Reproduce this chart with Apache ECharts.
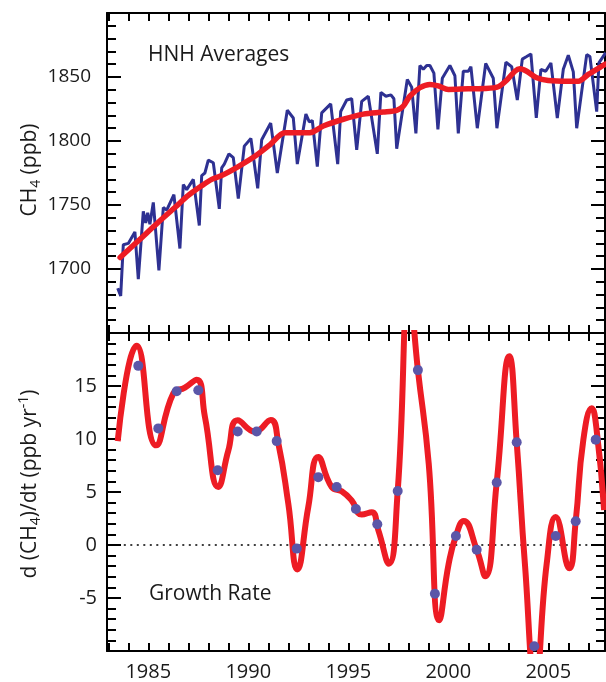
<!DOCTYPE html>
<html><head><meta charset="utf-8">
<script src="https://cdn.jsdelivr.net/npm/echarts@6/dist/echarts.min.js"></script>
<style>html,body{margin:0;padding:0;background:#fff}#c{width:606px;height:682px}</style>
</head><body><div id="c"></div>
<script>
// ---- data ----
const hnhYears = [1983.47,1983.62,1983.75,1984.0,1984.33,1984.5,1984.75,1984.87,1984.97,1985.08,1985.25,1985.53,1985.75,1985.92,1986.28,1986.58,1986.75,1986.92,1987.25,1987.55,1987.67,1987.83,1988.0,1988.25,1988.55,1988.67,1988.8,1989.03,1989.25,1989.5,1989.8,1990.13,1990.47,1990.67,1991.12,1991.45,1991.95,1992.25,1992.45,1992.88,1993.05,1993.2,1993.45,1993.67,1994.12,1994.47,1994.62,1994.92,1995.17,1995.42,1995.67,1996.0,1996.45,1996.63,1996.88,1997.13,1997.28,1997.42,1997.95,1998.17,1998.38,1998.58,1998.75,1998.92,1999.08,1999.28,1999.48,1999.7,2000.08,2000.33,2000.5,2000.75,2001.0,2001.13,2001.45,2001.87,2002.25,2002.43,2002.88,2003.17,2003.45,2003.7,2003.92,2004.13,2004.4,2004.63,2004.87,2004.97,2005.13,2005.45,2005.75,2006.0,2006.25,2006.42,2006.92,2007.08,2007.42,2007.53,2007.87];
const hnhValues = [1685,1679,1719,1720,1729,1692,1745,1736,1744,1735,1752,1699,1748,1746,1758,1716,1766,1762,1770,1734,1773,1775,1785,1783,1747,1779,1782,1790,1787,1755,1796,1802,1763,1801,1814,1775,1824,1818,1782,1821,1815,1816,1780,1822,1829,1782,1823,1832,1833,1793,1831,1835,1790,1838,1835,1836,1833,1794,1848,1842,1806,1859,1856,1859,1859,1853,1809,1849,1859,1851,1806,1854.5,1854.5,1858,1810,1860.5,1849,1810,1861.5,1858,1832,1864,1866,1868,1818,1856,1854.5,1856,1861,1818,1856,1867,1854,1810,1867.5,1866,1823,1861,1869];

const trendYears = [1983.59,1984.5,1985.5,1986.33,1987.0,1987.67,1988.17,1988.67,1989.5,1990.33,1991.08,1991.83,1993.08,1993.75,1994.75,1995.75,1996.75,1997.42,1997.75,1998.08,1998.58,1999.08,1999.5,2000.0,2001.0,2001.83,2002.5,2002.92,2003.33,2003.58,2003.92,2004.42,2005.0,2006.0,2006.5,2007.0,2007.67,2007.85];
const trendValues = [1709,1722,1736.5,1748,1757.5,1765,1770,1773,1780,1788,1797,1806.5,1806.5,1811.7,1817,1821,1822.6,1824,1827.3,1835,1841.6,1844.2,1843,1840.3,1840.8,1841,1842.4,1847.5,1854.5,1856.4,1854.5,1849.4,1847.3,1846.7,1846.7,1852,1858.4,1860];

const rateCurveYears = [1983.47,1984.42,1985.39,1986.25,1986.83,1987.42,1987.83,1988.5,1989.0,1989.47,1990.33,1991.12,1991.5,1992.0,1992.45,1993.0,1993.5,1994.17,1994.67,1995.17,1995.67,1996.17,1996.5,1997.03,1997.47,1998.05,1998.48,1999.02,1999.55,2000.02,2000.38,2000.77,2001.42,2001.85,2002.42,2003.05,2003.42,2003.83,2004.35,2004.92,2005.37,2006.05,2006.37,2006.75,2007.17,2007.42,2007.79];
const rateCurveValues = [9.8,18.8,9.4,14.3,14.85,15.6,12.1,5.47,8.9,11.76,10.7,11.8,9.6,3.9,-2.3,3.6,8.3,5.47,5.07,4.2,2.87,3.1,1.4,-1.76,5.1,24,16.5,7.7,-7.1,-1.76,0.85,2.27,-0.44,-2.95,5.9,17.8,9.7,-1.76,-13,-1.76,2.64,-2.2,2.24,9.9,12.9,10.8,3.3];

const rateDotYears = [1984.5,1985.5,1986.42,1987.5,1988.47,1989.47,1990.42,1991.42,1992.42,1993.5,1994.42,1995.38,1996.45,1997.47,1998.48,1999.33,2000.38,2001.42,2002.42,2003.42,2004.3,2005.37,2006.37,2007.37];
const rateDotValues = [16.9,11.0,14.5,14.6,7.05,10.7,10.7,9.8,-0.34,6.4,5.47,3.4,1.95,5.1,16.5,-4.6,0.85,-0.44,5.9,9.7,-9.56,0.85,2.24,9.94];

const zeroLineYears = [1983.45, 2007.85];
const zeroLineValues = [0, 0];

const yearTicks = [1983,1984,1985,1986,1987,1988,1989,1990,1991,1992,1993,1994,1995,1996,1997,1998,1999,2000,2001,2002,2003,2004,2005,2006,2007];
const yearLabels = [1985,1990,1995,2000,2005];
const ch4Range = [1650, 1900];
const rateRange = [-10, 20];

// ---- chart ----
const zip = (a, b) => a.map((v, i) => [v, b[i]]);
const X_MIN = 1982.935, X_MAX = 2007.835;
const INK = '#1a1a1a';
const FONT = 'Open Sans';
const plain = v => String(v);

function xAx(gridIndex, position, labels) {
  return {
    type: 'value', gridIndex, position, min: X_MIN, max: X_MAX,
    axisLine: {show: true, onZero: false, lineStyle: {color: '#000', width: 2}},
    axisTick: {show: true, inside: true, length: 8, customValues: yearTicks, lineStyle: {color: '#000', width: 2}},
    axisLabel: labels ? {show: true, customValues: yearLabels, formatter: plain, fontSize: 20, fontFamily: FONT, color: INK, margin: 11} : {show: false},
    splitLine: {show: false}
  };
}
function yAx(gridIndex, position, range, interval, labelOpt) {
  return {
    type: 'value', gridIndex, position, min: range[0], max: range[1], interval,
    axisLine: {show: true, onZero: false, lineStyle: {color: '#000', width: 2}},
    axisTick: {show: true, inside: true, length: 14, lineStyle: {color: '#000', width: 2}},
    minorTick: {show: true, splitNumber: 5, length: 9, lineStyle: {color: '#000', width: 2}},
    axisLabel: labelOpt ? Object.assign({show: true, showMinLabel: false, showMaxLabel: false, formatter: plain, fontFamily: FONT, color: INK}, labelOpt) : {show: false},
    splitLine: {show: false}, minorSplitLine: {show: false}
  };
}

const chart = echarts.init(document.getElementById('c'), null, {renderer: 'canvas'});
chart.setOption({
  animation: false,
  backgroundColor: '#fff',
  grid: [
    {left: 107, top: 13, width: 498, height: 320},
    {left: 107, top: 333, width: 498, height: 320}
  ],
  xAxis: [xAx(0, 'bottom', false), xAx(0, 'top', false), xAx(1, 'bottom', true), xAx(1, 'top', false)],
  yAxis: [
    yAx(0, 'left', ch4Range, 50, {fontSize: 19, margin: 16}),
    yAx(0, 'right', ch4Range, 50, null),
    yAx(1, 'left', rateRange, 5, {fontSize: 20, margin: 10}),
    yAx(1, 'right', rateRange, 5, null)
  ],
  series: [
    {type: 'line', xAxisIndex: 0, yAxisIndex: 0, data: zip(hnhYears, hnhValues), symbol: 'none',
     lineStyle: {color: '#2e3192', width: 3}, z: 2},
    {type: 'line', xAxisIndex: 0, yAxisIndex: 0, data: zip(trendYears, trendValues), symbol: 'none', smooth: 0.3,
     lineStyle: {color: '#ed1c24', width: 5.5, cap: 'round'}, z: 3},
    {type: 'line', xAxisIndex: 2, yAxisIndex: 2, data: zip(zeroLineYears, zeroLineValues), symbol: 'none',
     lineStyle: {color: '#000', width: 1.5, type: [2, 4.5]}, z: 2},
    {type: 'line', xAxisIndex: 2, yAxisIndex: 2, data: zip(rateCurveYears, rateCurveValues), symbol: 'none', smooth: 0.5,
     lineStyle: {color: '#ed1c24', width: 6}, z: 3},
    {type: 'scatter', xAxisIndex: 2, yAxisIndex: 2, data: zip(rateDotYears, rateDotValues), symbolSize: 10,
     itemStyle: {color: '#5b56a8', opacity: 1}, z: 4}
  ],
  graphic: [
    {type: 'text', x: 148, y: 55, style: {text: 'HNH Averages', fontSize: 21, fontFamily: FONT, fill: INK, align: 'left', verticalAlign: 'middle'}},
    {type: 'text', x: 149, y: 594, style: {text: 'Growth Rate', fontSize: 21, fontFamily: FONT, fill: INK, align: 'left', verticalAlign: 'middle'}},
    {type: 'text', x: 30, y: 170, rotation: Math.PI / 2,
     style: {text: '{a|CH}{s|4}{a| (ppb)}', align: 'center', verticalAlign: 'middle', fill: INK,
       rich: {a: {fontSize: 21, fontFamily: FONT, lineHeight: 26, fill: INK}, s: {fontSize: 14, fontFamily: FONT, lineHeight: 14, verticalAlign: 'bottom', fill: INK}}}},
    {type: 'text', x: 30, y: 484, rotation: Math.PI / 2,
     style: {text: '{a|d (CH}{s|4}{a|)/dt (ppb yr}{p|-1}{a|)}', align: 'center', verticalAlign: 'middle', fill: INK,
       rich: {a: {fontSize: 21, fontFamily: FONT, lineHeight: 26, fill: INK}, s: {fontSize: 14, fontFamily: FONT, lineHeight: 14, verticalAlign: 'bottom', fill: INK}, p: {fontSize: 14, fontFamily: FONT, lineHeight: 14, verticalAlign: 'top', fill: INK}}}}
  ]
});
</script></body></html>
